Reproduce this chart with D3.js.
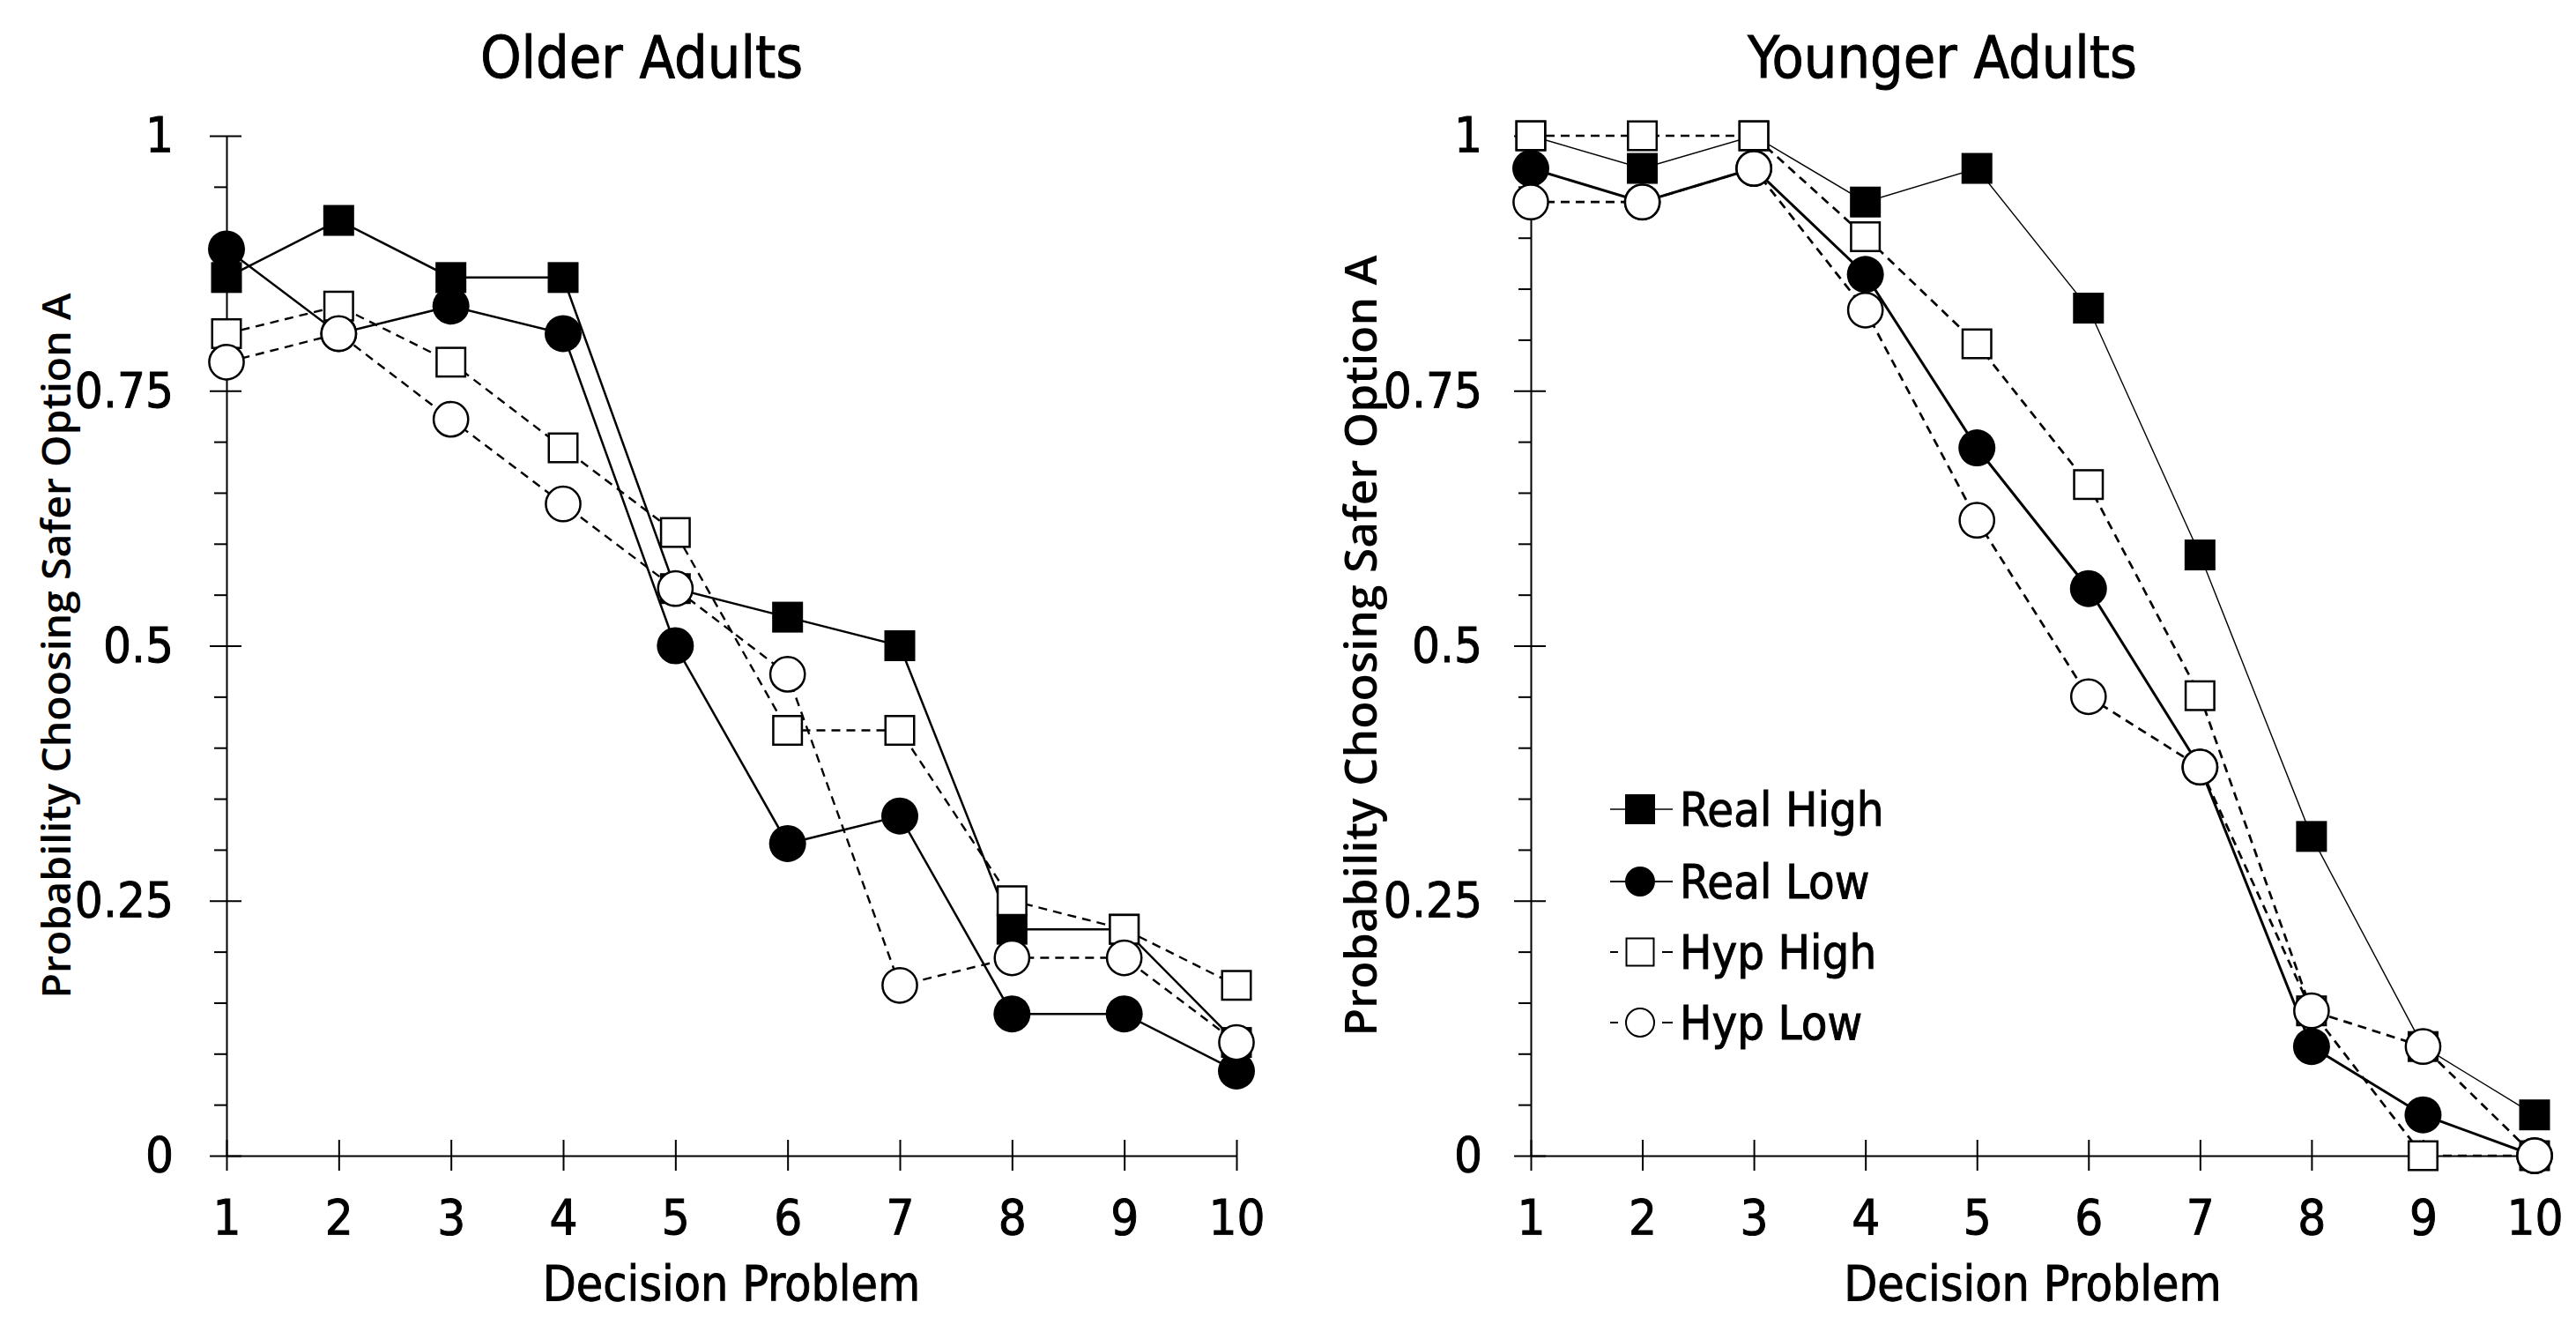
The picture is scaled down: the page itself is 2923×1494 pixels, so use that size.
<!DOCTYPE html>
<html>
<head>
<meta charset="utf-8">
<script src="https://cdn.jsdelivr.net/npm/d3@7"></script>
<style>
  html, body { margin: 0; padding: 0; background: #fff; }
  svg { display: block; }
  .tick text, .lbl { font-family: "DejaVu Sans Condensed", "DejaVu Sans", sans-serif; font-stretch: condensed;
                     fill: #000; stroke: #000; stroke-width: 0.9px; }
</style>
</head>
<body>
<div id="chart"></div>
<script>
// Probability of choosing the safer option, by decision problem
const problems = [1, 2, 3, 4, 5, 6, 7, 8, 9, 10];
const seriesNames = ["Real High", "Real Low", "Hyp High", "Hyp Low"];

const olderRealHigh = [0.861, 0.917, 0.861, 0.861, 0.556, 0.528, 0.500, 0.222, 0.222, 0.111];
const olderRealLow  = [0.889, 0.806, 0.833, 0.806, 0.500, 0.306, 0.333, 0.139, 0.139, 0.083];
const olderHypHigh  = [0.806, 0.833, 0.778, 0.694, 0.611, 0.417, 0.417, 0.250, 0.222, 0.167];
const olderHypLow   = [0.778, 0.806, 0.722, 0.639, 0.556, 0.472, 0.167, 0.194, 0.194, 0.111];

const youngerRealHigh = [1.000, 0.968, 1.000, 0.935, 0.968, 0.831, 0.589, 0.313, 0.107, 0.040];
const youngerRealLow  = [0.968, 0.935, 0.968, 0.864, 0.694, 0.556, 0.381, 0.107, 0.040, 0.000];
const youngerHypHigh  = [1.000, 1.000, 1.000, 0.901, 0.796, 0.658, 0.451, 0.142, 0.000, 0.000];
const youngerHypLow   = [0.935, 0.935, 0.968, 0.829, 0.623, 0.450, 0.381, 0.142, 0.107, 0.000];

const yMajorTicks = [0, 0.25, 0.5, 0.75, 1];
const yTickLabels = ["0", "0.25", "0.5", "0.75", "1"];

const W = 2923, H = 1494;

const svg = d3.select("#chart").append("svg")
    .attr("width", W)
    .attr("height", H)
    .attr("viewBox", [0, 0, W, H])
    .style("background", "#fff");

// marker shape per series: filled square, filled circle, open square, open circle
const markers = [
    { shape: "square", fill: "#000", dash: null },
    { shape: "circle", fill: "#000", dash: null },
    { shape: "square", fill: "#fff", dash: "10,7" },
    { shape: "circle", fill: "#fff", dash: "10,7" }
];

const panels = [
    {
        title: "Older Adults", titleX: 728,
        left: 257, right: 1403,
        data: [olderRealHigh, olderRealLow, olderHypHigh, olderHypLow],
        widths: [2.5, 2.5, 2.4, 2.4],
        tickFont: 56, yPad: 41,
        ylabX: 80, ylabFont: 46, ylabLen: 800
    },
    {
        title: "Younger Adults", titleX: 2204,
        left: 1737, right: 2876,
        data: [youngerRealHigh, youngerRealLow, youngerHypHigh, youngerHypLow],
        widths: [1.4, 3, 2.7, 2.7],
        tickFont: 56, yPad: 36,
        ylabX: 1562, ylabFont: 50, ylabLen: 886,
        legend: true
    }
];

const plotTop = 154, plotBottom = 1311;

panels.forEach(p => {
    const x = d3.scaleLinear().domain([1, 10]).range([p.left, p.right]);
    const y = d3.scaleLinear().domain([0, 1]).range([plotBottom, plotTop]);

    const g = svg.append("g");

    // title
    g.append("text")
        .attr("class", "lbl")
        .attr("x", p.titleX)
        .attr("y", 88)
        .attr("text-anchor", "middle")
        .style("font-size", "66px")
        .text(p.title);

    // minor y ticks every 0.05 (outside only)
    const minor = d3.range(0, 1.0001, 0.05).filter(v => Math.abs(v * 4 - Math.round(v * 4)) > 1e-6);
    g.append("g")
        .attr("transform", `translate(${p.left},0)`)
        .call(d3.axisLeft(y).tickValues(minor).tickSize(14).tickSizeOuter(0).tickFormat(""))
        .call(a => a.select(".domain").remove())
        .call(a => a.selectAll("line").attr("stroke", "#000").attr("stroke-width", 2));

    // major y ticks crossing the axis
    g.append("g")
        .attr("transform", `translate(${p.left},0)`)
        .call(d3.axisRight(y).tickValues(yMajorTicks).tickSize(17).tickSizeOuter(0).tickFormat(""))
        .call(a => a.select(".domain").remove())
        .call(a => a.selectAll("line").attr("stroke", "#000").attr("stroke-width", 2));

    g.append("g")
        .attr("transform", `translate(${p.left},0)`)
        .call(d3.axisLeft(y).tickValues(yMajorTicks).tickSize(19).tickSizeOuter(0)
            .tickPadding(p.yPad).tickFormat((d, i) => yTickLabels[i]))
        .call(a => a.select(".domain").attr("stroke", "#000").attr("stroke-width", 2))
        .call(a => a.selectAll("line").attr("stroke", "#000").attr("stroke-width", 2))
        .call(a => a.selectAll("text").style("font-size", p.tickFont + "px"));

    // x axis at y = 0, ticks crossing
    g.append("g")
        .attr("transform", `translate(0,${plotBottom})`)
        .call(d3.axisTop(x).tickValues(problems).tickSize(18).tickSizeOuter(0).tickFormat(""))
        .call(a => a.select(".domain").remove())
        .call(a => a.selectAll("line").attr("stroke", "#000").attr("stroke-width", 2));

    g.append("g")
        .attr("transform", `translate(0,${plotBottom})`)
        .call(d3.axisBottom(x).tickValues(problems).tickSize(17).tickSizeOuter(0)
            .tickPadding(32).tickFormat(d3.format("d")))
        .call(a => a.select(".domain").attr("stroke", "#000").attr("stroke-width", 2))
        .call(a => a.selectAll("line").attr("stroke", "#000").attr("stroke-width", 2))
        .call(a => a.selectAll("text").style("font-size", p.tickFont + "px"));

    // axis titles
    g.append("text")
        .attr("class", "lbl")
        .attr("x", (p.left + p.right) / 2)
        .attr("y", 1475)
        .attr("text-anchor", "middle")
        .style("font-size", "55px")
        .text("Decision Problem");

    g.append("text")
        .attr("transform", `translate(${p.ylabX},${(plotTop + plotBottom) / 2}) rotate(-90)`)
        .attr("text-anchor", "middle")
        .attr("textLength", p.ylabLen)
        .attr("lengthAdjust", "spacingAndGlyphs")
        .style("font-family", '"Open Sans", sans-serif')
        .style("font-weight", 600)
        .style("font-size", p.ylabFont + "px")
        .text("Probability Choosing Safer Option A");

    // lines
    const line = d3.line().x((d, i) => x(problems[i])).y(d => y(d));
    p.data.forEach((vals, s) => {
        g.append("path")
            .datum(vals)
            .attr("d", line)
            .attr("fill", "none")
            .attr("stroke", "#000")
            .attr("stroke-width", p.widths[s])
            .attr("stroke-dasharray", markers[s].dash);
    });

    // markers
    p.data.forEach((vals, s) => {
        const m = markers[s];
        const open = m.fill === "#fff";
        const pts = g.append("g").selectAll(m.shape === "square" ? "rect" : "circle")
            .data(vals)
            .join(m.shape === "square" ? "rect" : "circle");
        if (m.shape === "square") {
            const size = open ? 32.5 : 35;
            pts.attr("x", (d, i) => x(problems[i]) - size / 2)
                .attr("y", d => y(d) - size / 2)
                .attr("width", size)
                .attr("height", size);
        } else {
            pts.attr("cx", (d, i) => x(problems[i]))
                .attr("cy", d => y(d))
                .attr("r", open ? 19.6 : 21);
        }
        pts.attr("fill", m.fill)
            .attr("stroke", open ? "#000" : "none")
            .attr("stroke-width", open ? 2.5 : 0);
    });

    // legend
    if (p.legend) {
        const legendY = [918, 1000, 1080, 1160];
        const lx0 = 1827, lx1 = 1898, mx = 1861;
        const lg = g.append("g");
        seriesNames.forEach((name, s) => {
            const m = markers[s];
            const open = m.fill === "#fff";
            const row = lg.append("g").attr("transform", `translate(0,${legendY[s]})`);
            if (open) {
                row.append("line").attr("x1", lx0).attr("x2", lx0 + 9).attr("stroke", "#000").attr("stroke-width", 2);
                row.append("line").attr("x1", lx1 - 12).attr("x2", lx1).attr("stroke", "#000").attr("stroke-width", 2);
            } else {
                row.append("line").attr("x1", lx0).attr("x2", lx1)
                    .attr("stroke", "#000").attr("stroke-width", s === 0 ? 1.5 : 2.2);
            }
            if (m.shape === "square") {
                const size = open ? 31 : 34;
                row.append("rect").attr("x", mx - size / 2).attr("y", -size / 2)
                    .attr("width", size).attr("height", size)
                    .attr("fill", m.fill).attr("stroke", open ? "#000" : "none").attr("stroke-width", 2);
            } else {
                row.append("circle").attr("cx", mx).attr("r", open ? 16 : 17)
                    .attr("fill", m.fill).attr("stroke", open ? "#000" : "none").attr("stroke-width", 2);
            }
            row.append("text")
                .attr("class", "lbl")
                .attr("x", 1906)
                .attr("dy", "0.36em")
                .style("font-size", "54px")
                .text(name);
        });
    }
});
</script>
</body>
</html>
